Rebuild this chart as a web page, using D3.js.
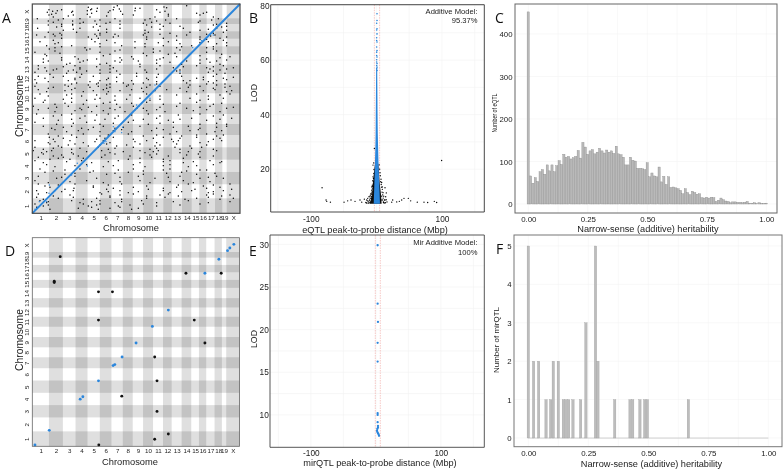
<!DOCTYPE html>
<html><head><meta charset="utf-8">
<script src="https://cdn.jsdelivr.net/npm/d3@7/dist/d3.min.js"></script>
<style>
html,body{margin:0;padding:0;background:#fff}
svg{display:block;filter:blur(0.25px)}
text{font-family:"Liberation Sans",Arial,sans-serif;fill:#222}
.letter{font-family:"Open Sans",sans-serif;font-size:14px;fill:#111}
</style></head><body><svg id="c" width="784" height="472"></svg>
<script>
// ---------- DATA ----------
const chromNames = ["1","2","3","4","5","6","7","8","9","10","11","12","13","14","15","16","17","18","19","X"];
// chromosome band sizes, in genome units of roughly 4.2 Mbp
const markerChromSizes = [50,42,38,36,37,35,34,30,31,30,30,26,30,29,23,22,25,22,13,40];
const probeChromSizes  = [45,42,37,37,37,37,33,30,31,31,30,28,28,31,24,23,22,22,17,43];
// eQTL map: [probe position, [marker positions]]
const eqtlRows = [
[623,[255,463]],[619,[395]],[617,[403]],
[618,[168,245]],[613,[178,261]],[615,[195,309,323]],
[611,[50,88,175,243,373]],[606,[61,121,193,265,398]],[608,[75,165,233,308]],
[603,[45,118,228,383,523]],[597,[58,165,271,408]],[600,[71,178,493,513]],
[595,[50,123,303,503]],[589,[63,173,368,543]],[592,[108,223,408]],
[584,[15,93,143,248,353,433,558]],[577,[48,121,188,263,373,503,573]],[580,[78,203,338,400,538]],
[573,[63,153,233,358,498]],[567,[88,121,193,263,383,553]],[570,[143,221,333,413,583]],
[565,[48,121,343,543]],[559,[73,183,358,568]],[561,[88,203,393,443,583]],
[555,[16,143,263,453,553]],[549,[93,198,338,503,583]],[552,[123,223,383,528]],
[543,[48,133,223,348,473,573]],[537,[63,188,248,383,523]],[540,[83,203,338,413,543]],
[535,[13,88,203,333,463,548]],[529,[38,168,243,343,503,583]],[532,[68,193,258,433,535]],
[525,[88,198,393,563]],[519,[63,223,433,573]],[522,[178,343,503,523]],
[515,[23,188,308,408,528]],[509,[68,203,338,443,553]],[512,[78,248,378,503,583]],
[503,[43,118,268,393,478,583]],[497,[68,158,308,433,523]],[500,[88,203,338,448,543]],
[493,[51,173,363,543]],[487,[68,248,383,553]],[490,[163,263,443]],
[483,[8,203,363,523]],[477,[38,233,408,568]],[480,[83,333,428]],
[473,[43,213,343,503]],[467,[88,263,393,563]],[470,[128,298,433,593]],
[463,[33,138,193,303,383,523]],[457,[48,153,248,318,463,553]],[460,[88,165,268,373,503,583]],
[453,[33,143,263,413,533]],[447,[103,203,323,448,563]],[450,[113,223,373,503]],
[443,[18,128,233,383,493,573]],[437,[38,143,243,423,523,603]],[440,[93,193,323,453,543]],
[433,[18,73,143,233,373,533,583]],[427,[43,108,163,253,433,543]],[430,[63,123,203,338,443,563]],
[423,[8,133,233,343,528]],[417,[53,148,263,378,553]],[420,[103,203,313,443,578]],
[411,[18,93,183,313,448,543]],[405,[38,128,228,343,493,573]],[408,[63,143,253,373,513,603]],
[401,[8,128,223,348,513,583]],[395,[48,173,253,373,528]],[398,[108,203,298,453,473,553]],
[391,[13,133,198,273,333,463,543]],[385,[98,168,223,288,353,473,553]],[388,[118,193,233,303,373,523,578]],
[381,[8,108,198,283,383,503,593]],[375,[48,128,223,328,443,543]],[378,[63,173,233,343,468,578]],
[371,[18,118,213,298,403,548]],[365,[43,153,228,333,463,583]],[368,[98,183,263,368,513,598]],
[358,[23,118,223,343,493,593]],[352,[48,148,248,383,528]],[355,[103,193,293,433,563]],
[345,[8,118,203,323,473,573]],[339,[38,163,248,353,503]],[342,[93,188,283,383,528]],
[333,[33,118,233,343,493]],[327,[68,153,253,393,543]],[330,[98,213,298,443,568]],
[321,[3,108,193,303,433,533]],[315,[48,143,233,333,463,583]],[318,[73,168,263,383,503,603]],
[311,[18,148,248,373,523]],[305,[68,178,278,398,563]],[308,[128,213,343,483]],
[298,[13,118,228,348,503]],[292,[63,158,258,383,543]],[295,[88,193,298,438,573]],
[285,[33,143,248,373,478,598]],[279,[78,188,303,408,523]],[282,[118,218,333,443,563]],
[273,[8,163,288,423]],[267,[73,203,348,503,583]],[270,[123,243,383,553]],
[261,[33,118,213,323,468,583]],[255,[58,148,248,373,503]],[258,[93,183,273,423,553]],
[251,[68,168,268,393,498]],[245,[103,203,298,433,548]],[248,[138,243,358,473,568]],
[238,[48,153,288,413,523]],[232,[78,203,333,448,553]],[235,[118,228,373,493,573]],
[228,[51,133,243,393,493]],[222,[63,193,303,418,543]],[225,[93,218,363,443,563]],
[218,[8,113,213,343,438,568]],[212,[48,153,233,373,503]],[215,[68,188,308,423,528]],
[208,[53,128,223,323,433]],[202,[78,168,253,368,473]],[205,[108,203,283,383,523]],
[198,[8,88,198,303,428,508]],[192,[33,118,228,353,443,543]],[195,[63,143,248,373,478]],
[188,[3,58,208,323,378,553]],[182,[28,118,233,338,443]],[185,[43,163,273,363,468,503]],
[178,[33,123,248,373,498]],[172,[63,138,293,408,543]],[175,[88,218,353,463]],
[168,[18,93,208,358,503]],[162,[53,113,288,393]],[165,[78,153,323,453]],
[158,[8,148,258,413,533]],[152,[33,178,323,453,563]],[155,[103,228,393,483,568]],
[146,[43,163,303,413,543]],[140,[68,213,338,468]],[143,[128,243,393,493]],
[133,[23,143,303,413]],[127,[63,183,333,463]],[130,[98,258,393,503,523]],
[123,[38,173,288,448]],[117,[98,223,333,493]],[120,[128,248,403,548]],
[111,[18,128,318,443,553]],[105,[73,193,368,503,573]],[108,[88,263,408,528]],
[98,[8,163,323,453]],[92,[48,213,353,483]],[95,[113,263,413,533]],
[88,[18,128,268,468,593]],[82,[38,183,343,513]],[85,[78,228,438,543]],
[78,[53,183,303,433,563]],[72,[98,223,348,488,598]],[75,[125,243,393,523]],
[68,[13,123,263,393,478,573]],[62,[43,203,288,413,528]],[65,[88,228,318,448,543]],
[58,[18,208,303,408,543]],[52,[63,233,343,438,568]],[55,[113,263,383,523,593]],
[48,[13,123,233,398,528]],[42,[33,153,268,458,563]],[45,[78,193,343,493,603]],
[38,[23,118,203,328,468]],[32,[43,143,248,373,528]],[35,[48,178,268,423,593]],
[28,[8,153,203,333,503]],[22,[33,168,258,373]],[25,[48,193,293,443]],
[18,[13,178,263]],[12,[53,198,298]],[15,[138,233,318]]
];
const eqtlCisLine = [[0,0],[623,628]];
const eqtlCisExtra = [[8,12],[15,18],[21,35],[43,35],[51,85],[50,60],[68,68],[118,115],[135,150],[165,142],[215,210],[221,215],[243,260],[248,245],[268,242],[271,258],[321,322],[353,345],[368,385],[443,425],[481,497],[508,518],[543,535],[308,310],[315,315],[313,325]];
// mirQTL map
const mirTrans = [[84,571],[66,497],[66,493],[199,465],[241,465],[199,380],[487,380],[462,521],[568,521],[519,311],[368,269],[269,151],[375,197],[375,105],[368,21],[409,37],[200,4]];
const mirCis = [[8,4],[51,48],[144,142],[152,149],[199,197],[243,243],[248,246],[270,269],[312,311],[361,361],[409,410],[519,521],[561,563],[587,589],[594,597],[606,608]];
// panel B: distance (Mbp), LOD
const eqtlFar = [[-82.7,13.2],[-76.6,8.7],[-75.6,8.2],[-70,7.9],[-49.2,7.9],[-43.7,8.4],[-38.6,8.7],[-32.5,8.2],[-24.9,8.7],[-22.3,7.9],[-18.3,9],[-9.6,10.1],[-8.1,11.1],[-7.1,12.3],[-6.1,14.1],[-5.1,17.2],[-5.1,21.5],[-3,17.8],[-3,27.6],[9.1,13.5],[13.2,13.2],[15.2,11.3],[9.1,8.7],[16.2,8],[23.4,7.9],[24.9,8.7],[31,8],[35,8.2],[38.6,8.7],[42.1,9.3],[48.7,9.3],[52.3,8.4],[62.4,7.9],[72.6,7.9],[78.2,7.8],[88.3,8.2],[91.9,7.8],[99.5,23.2],[-14.7,8.7],[-13.2,9.3],[-12.2,8],[-11.2,9.9],[-10.2,8.7],[-9.1,10.5],[-8.1,9.3],[-7.1,13.5],[-7.1,9.9],[-5.6,11.7],[-4.6,15.4],[-4.1,13.5],[-3.6,19.9],[-4.1,22.3],[5.6,18.7],[7.1,16.3],[8.1,15.1],[9.1,12.6],[10.2,11.4],[11.2,10.1],[12.2,8.7],[8.1,10.1],[7.1,8.7],[10.7,8],[13.2,8.7],[14.2,9.9],
[-16,7.8],[-15,7.6],[-13.5,8.4],[-12.5,7.5],[-11,8.4],[-10,7.7],[-9.5,9.4],[-8.5,8],[-7.8,10.8],[-7,11.6],[-6.4,9.2],[-6,12.8],[-5.8,13.6],[-5.4,15.8],[-4.8,14.6],[-4.4,16.6],[-3.8,18.4],[-3.4,16.8],[5,20],[6,17.6],[6.6,15.4],[7.4,14.4],[8,13.4],[8.6,11.6],[9.6,10.6],[10.4,9.4],[11,7.8],[12,7.6],[13.8,7.7],[15,8.8],[4.4,21.6]];
const eqtlNearTop = [[1,77],[1,74.5],[0.5,73.5],[1,71.5],[0.5,71],[1,69.6],[0.5,68.2],[0.5,67.2],[1,66.6],[0.5,64.8],[1,63.5],[0.5,62.9],[0.5,61.7],[1,61.1],[0.5,60.1],[0.5,59.3],[1,58.7],[0.5,58],[1,57.4],[0.5,56.8],[1,56.2]];
// dense clouds in panel B: LOD, left and right edges (Mbp)
const transCoreLod = [7.3,11,15,19,22];
const transCoreLeft = [-10,-6.5,-5,-3.5,-2];
const transCoreRight = [8,7,5,4,3];
const cisCoreLod = [7.3,14.8,20.9,27,33,39,45,51,57];
const cisCoreLeft = [-4,-3,-2.3,-1.6,-1.1,-0.9,-0.7,-0.5,-0.3];
const cisCoreRight = [5.5,4.5,3.5,2.8,2.2,1.9,1.7,1.5,1.3];
const eqtlWindow = [-3,5];
const eqtlTicksY = [20,40,60,80];
const distTicks = [-100,100];
// panel C histogram
const eqtlH2 = [452,66,49,62,53,76,81,70,92,78,92,76,90,102,93,117,110,112,106,109,112,126,108,145,134,117,125,128,118,122,131,125,120,127,122,125,119,136,118,116,110,92,92,110,103,101,84,84,83,81,97,64,73,66,64,87,52,65,46,64,39,40,38,36,32,24,36,27,22,30,27,23,24,15,14,16,14,16,15,6,9,14,10,7,6,3,5,5,4,4,3,4,6,2,2,3,1,3,1,1,2];
const h2Ticks = [0,0.25,0.5,0.75,1];
const eqtlCountTicks = [0,100,200,300,400];
// panel E
const mirPeak = [[2.8,29.9],[2.8,23.05],[3.3,20.9],[2.8,18.45],[2.8,16.25],[2.8,10.2],[2.8,10],[2.8,9.15],[3.3,8.7],[3.3,8.5],[2.3,8.35],[1.8,8.15],[2.3,8],[3.3,7.85],[4.4,7.7],[4.9,7.55]];
const mirWindow = [-0.8,6.9];
const mirLodTicks = [10,15,20,25,30];
// panel F histogram
const mirH2 = [0,.022,.043,.074,.093,.104,.125,.146,.157,.168,.186,.218,.24,.28,.29,.36,.424,.435,.465,.485,.496,.667];
const mirH2Counts = [5,2,2,1,1,2,2,1,1,1,1,1,3,5,2,1,1,1,1,1,1,1];
const mirCountTicks = [0,1,2,3,4,5];

// ---------- DRAWING ----------
const svg = d3.select("#c");
const BLUE = "#2b86dc";
function letter(t,x,y){svg.append("text").attr("class","letter").attr("x",x).attr("y",y).text(t);}
function frame(x0,y0,x1,y1,col,w){svg.append("rect").attr("x",x0).attr("y",y0).attr("width",x1-x0).attr("height",y1-y0).attr("fill","none").attr("stroke",col).attr("stroke-width",w);}
function label(t,x,y,size,rot,len){
  const s=svg.append("text").attr("text-anchor","middle").attr("font-size",size).text(t);
  if(rot) s.attr("transform",`translate(${x},${y}) rotate(-90)`); else s.attr("x",x).attr("y",y);
  if(len) s.attr("textLength",len).attr("lengthAdjust","spacingAndGlyphs");
}
function cum(sizes){let a=[0];sizes.forEach(d=>a.push(a[a.length-1]+d));return a;}

function mapPanel(px0,py0,px1,py1,xTickY){
  const xb=cum(markerChromSizes), yb=cum(probeChromSizes);
  const x=d3.scaleLinear().domain([0,xb[20]]).range([px0,px1]);
  const y=d3.scaleLinear().domain([0,yb[20]]).range([py1,py0]);
  const g=svg.append("g");
  g.append("rect").attr("x",px0).attr("y",py0).attr("width",px1-px0).attr("height",py1-py0).attr("fill","#fff");
  g.selectAll(".v").data(d3.range(1,20,2)).join("rect").attr("x",i=>x(xb[i])).attr("width",i=>x(xb[i+1])-x(xb[i])).attr("y",py0).attr("height",py1-py0).attr("fill","#000").attr("opacity",.125);
  g.selectAll(".h").data(d3.range(0,20,2)).join("rect").attr("y",i=>y(yb[i+1])).attr("height",i=>y(yb[i])-y(yb[i+1])).attr("x",px0).attr("width",px1-px0).attr("fill","#000").attr("opacity",.125);
  const xa=d3.axisBottom(x).tickValues(d3.range(20).map(i=>(xb[i]+xb[i+1])/2)).tickFormat((d,i)=>chromNames[i]).tickSize(0).tickPadding(0);
  const ga=svg.append("g").attr("transform",`translate(0,${xTickY-5})`).call(xa);
  ga.select(".domain").remove(); ga.selectAll("text").attr("font-size",6.2).attr("font-family","Liberation Sans").attr("dy",0).attr("y",5);
  const ya=d3.axisLeft(y).tickValues(d3.range(20).map(i=>(yb[i]+yb[i+1])/2)).tickFormat((d,i)=>chromNames[i]).tickSize(0);
  const gy=svg.append("g").attr("transform",`translate(29.2,0)`).call(ya);
  gy.select(".domain").remove();
  gy.selectAll("text").attr("font-size",6.2).attr("font-family","Liberation Sans").attr("text-anchor","middle").attr("dy",0).attr("x",0).attr("transform","rotate(-90)");
  return {x,y,g};
}

// Panel A
{
  const {x,y,g}=mapPanel(32.3,4,240,213.3,219.5);
  const pts=eqtlRows.flatMap(([p,ms])=>ms.map(m=>[m,p]));
  g.selectAll(".p").data(pts).join("circle").attr("cx",d=>x(d[0])).attr("cy",d=>y(d[1])).attr("r",.72).attr("fill","#000");
  g.append("path").attr("d",d3.line().x(d=>x(d[0])).y(d=>y(d[1]))(eqtlCisLine)).attr("stroke",BLUE).attr("stroke-width",1.9).attr("fill","none");
  g.selectAll(".b").data(eqtlCisExtra).join("circle").attr("cx",d=>x(d[0])).attr("cy",d=>y(d[1])).attr("r",.7).attr("fill",BLUE);
  frame(32.3,4,240,213.3,"#4a4a4a",1.2);
  label("Chromosome",131,230.7,9.3);
  label("Chromosome",22.5,106,10.3,true);
  letter("A",2,23);
}
// Panel D
{
  const {x,y,g}=mapPanel(32.3,237.7,239.5,446.3,453);
  g.selectAll(".t").data(mirTrans).join("circle").attr("cx",d=>x(d[0])).attr("cy",d=>y(d[1])).attr("r",1.45).attr("fill","#111");
  g.selectAll(".c").data(mirCis).join("circle").attr("cx",d=>x(d[0])).attr("cy",d=>y(d[1])).attr("r",1.45).attr("fill",BLUE);
  frame(32.3,237.7,239.5,446.3,"#666",.8);
  label("Chromosome",130,465,9.3);
  label("Chromosome",22.5,340,10.3,true);
  letter("D",5,256);
}
function lodPanel(px0,py0,px1,py1,xd,yd,yTicks,xLab,labX,yLabY,labY,tickPad,win,ann){
  const x=d3.scaleLinear().domain(xd).range([px0,px1]);
  const y=d3.scaleLinear().domain(yd).range([py1,py0]);
  const g=svg.append("g");
  const ym=yTicks.slice(0,-1).map((d,i)=>(d+yTicks[i+1])/2);
  g.selectAll(".gy").data(yTicks.concat(ym)).join("line").attr("x1",px0).attr("x2",px1).attr("y1",d=>y(d)).attr("y2",d=>y(d)).attr("stroke","#f1f1f1").attr("stroke-width",.6);
  g.selectAll(".gx").data([-150,-100,-50,0,50,100,150]).join("line").attr("y1",py0).attr("y2",py1).attr("x1",d=>x(d)).attr("x2",d=>x(d)).attr("stroke","#f1f1f1").attr("stroke-width",.6);
  g.selectAll(".w").data(win).join("line").attr("y1",py0).attr("y2",py1).attr("x1",d=>x(d)).attr("x2",d=>x(d)).attr("stroke","#f2a5a0").attr("stroke-width",.6).attr("stroke-dasharray","1.5,1");
  const xa=svg.append("g").attr("transform",`translate(0,${py1})`).call(d3.axisBottom(x).tickValues(distTicks).tickFormat(d3.format("d")).tickSize(0).tickPadding(tickPad));
  xa.select(".domain").remove(); xa.selectAll("text").attr("font-size",8.3).attr("font-family","Liberation Sans").text(d=>d<0?"-"+(-d):d);
  const ya=svg.append("g").attr("transform",`translate(${px0},0)`).call(d3.axisLeft(y).tickValues(yTicks).tickSize(0).tickPadding(1.2));
  ya.select(".domain").remove(); ya.selectAll("text").attr("font-size",8.3).attr("font-family","Liberation Sans");
  label(xLab,labX,labY,9.2);
  label("LOD",256.5,yLabY,8.8,true);
  ann.forEach(a=>svg.append("text").attr("x",477.5).attr("y",a[1]).attr("text-anchor","end").attr("font-size",7.6).text(a[0]));
  return {x,y,g};
}
// Panel B
{
  const {x,y,g}=lodPanel(270.7,4.7,484.3,212,[-161,164.5],[4.3,80.3],eqtlTicksY,"eQTL peak-to-probe distance (Mbp)",375,93,233.3,3.8,eqtlWindow,[["Additive Model:",14],["95.37%",23.3]]);
  const area=(lod,l,r)=>d3.area().y(i=>y(lod[i])).x0(i=>x(l[i])).x1(i=>x(r[i])).curve(d3.curveMonotoneY)(d3.range(lod.length));
  g.append("path").attr("d",area(transCoreLod,transCoreLeft,transCoreRight)).attr("fill","#111");
  g.selectAll(".f").data(eqtlFar).join("circle").attr("cx",d=>x(d[0])).attr("cy",d=>y(d[1])).attr("r",.68).attr("fill","#000");
  g.append("path").attr("d",area(cisCoreLod,cisCoreLeft,cisCoreRight)).attr("fill",BLUE);
  g.selectAll(".n").data(eqtlNearTop).join("circle").attr("cx",d=>x(d[0])).attr("cy",d=>y(d[1])).attr("r",.8).attr("fill",BLUE);
  svg.append("path").attr("d",`M270.7,4.7V212H484.3V4.7Z`).attr("fill","none").attr("stroke","#333").attr("stroke-width",.9);
  letter("B",249,23);
}
// Panel E
{
  const {x,y,g}=lodPanel(270,235,484.3,447.3,[-162.8,166.9],[6.2,31.1],mirLodTicks,"mirQTL peak-to-probe distance (Mbp)",380,339,466,2.8,mirWindow,[["Mir Additive Model:",245.3],["100%",255.3]]);
  g.selectAll(".m").data(mirPeak).join("circle").attr("cx",d=>x(d[0])).attr("cy",d=>y(d[1])).attr("r",1.15).attr("fill",BLUE);
  svg.append("path").attr("d",`M270,235V447.3H484.3V235Z`).attr("fill","none").attr("stroke","#444").attr("stroke-width",.9);
  letter("E",249,256);
}
function histPanel(fx0,fy0,fx1,fy1,sx0,sx1,y0px,ytopPx,ytopVal,ticks,xLab,labX,labY,xTickPad){
  const x=d3.scaleLinear().domain([0,1]).range([sx0,sx1]);
  const y=d3.scaleLinear().domain([0,ytopVal]).range([y0px,ytopPx]);
  const g=svg.append("g");
  const minor=[.125,.375,.625,.875];
  g.selectAll(".gx").data(h2Ticks.concat(minor)).join("line").attr("y1",fy0).attr("y2",fy1).attr("x1",d=>x(d)).attr("x2",d=>x(d)).attr("stroke","#f3f3f3").attr("stroke-width",.6);
  g.selectAll(".gy").data(ticks).join("line").attr("x1",fx0).attr("x2",fx1).attr("y1",d=>y(d)).attr("y2",d=>y(d)).attr("stroke","#f3f3f3").attr("stroke-width",.6);
  const xa=svg.append("g").attr("transform",`translate(0,${fy1})`).call(d3.axisBottom(x).tickValues(h2Ticks).tickFormat(d3.format(".2f")).tickSize(0).tickPadding(xTickPad));
  xa.select(".domain").remove(); xa.selectAll("text").attr("font-size",7.9).attr("font-family","Liberation Sans");
  const ya=svg.append("g").attr("transform",`translate(${fx0-1},0)`).call(d3.axisLeft(y).tickValues(ticks).tickFormat(d3.format("d")).tickSize(0).tickPadding(1.5));
  ya.select(".domain").remove(); ya.selectAll("text").attr("font-size",7.8).attr("font-family","Liberation Sans");
  label(xLab,labX,labY,9.2);
  return {x,y,g};
}
// Panel C
{
  const {x,y,g}=histPanel(515,4,777,213,528.3,766.3,204,34,400,eqtlCountTicks,"Narrow-sense (additive) heritability",648,232,3.4);
  g.selectAll(".bar").data(eqtlH2).join("rect").attr("x",(d,i)=>x(i/100-.005)).attr("width",x(.01)-x(0)-.2).attr("y",d=>y(d)).attr("height",d=>y(0)-y(d)).attr("fill","#b9b9b9").attr("stroke","#888").attr("stroke-width",.35);
  frame(515,4,777,213,"#666",1);
  label("Number of eQTL",497.3,113,7,true,39);
  letter("C",495,23);
}
// Panel F
{
  const {x,y,g}=histPanel(514,235,782,446.7,528.3,768.3,438,246,5,mirCountTicks,"Narrow-sense (additive) heritability",651.5,467,3.7);
  g.append("rect").attr("x",x(0)).attr("width",x(1)-x(0)).attr("y",y(0)-.3).attr("height",.7).attr("fill","#bdbdbd");
  g.selectAll(".bar").data(mirH2).join("rect").attr("x",d=>x(d-.005)).attr("width",x(.01)-x(0)).attr("y",(d,i)=>y(mirH2Counts[i])).attr("height",(d,i)=>y(0)-y(mirH2Counts[i])).attr("fill","#bdbdbd").attr("stroke","#9a9a9a").attr("stroke-width",.3);
  frame(514,235,782,446.7,"#777",1);
  label("Number of mirQTL",499,340,8,true,66);
  letter("F",496,254);
}
</script></body></html>
